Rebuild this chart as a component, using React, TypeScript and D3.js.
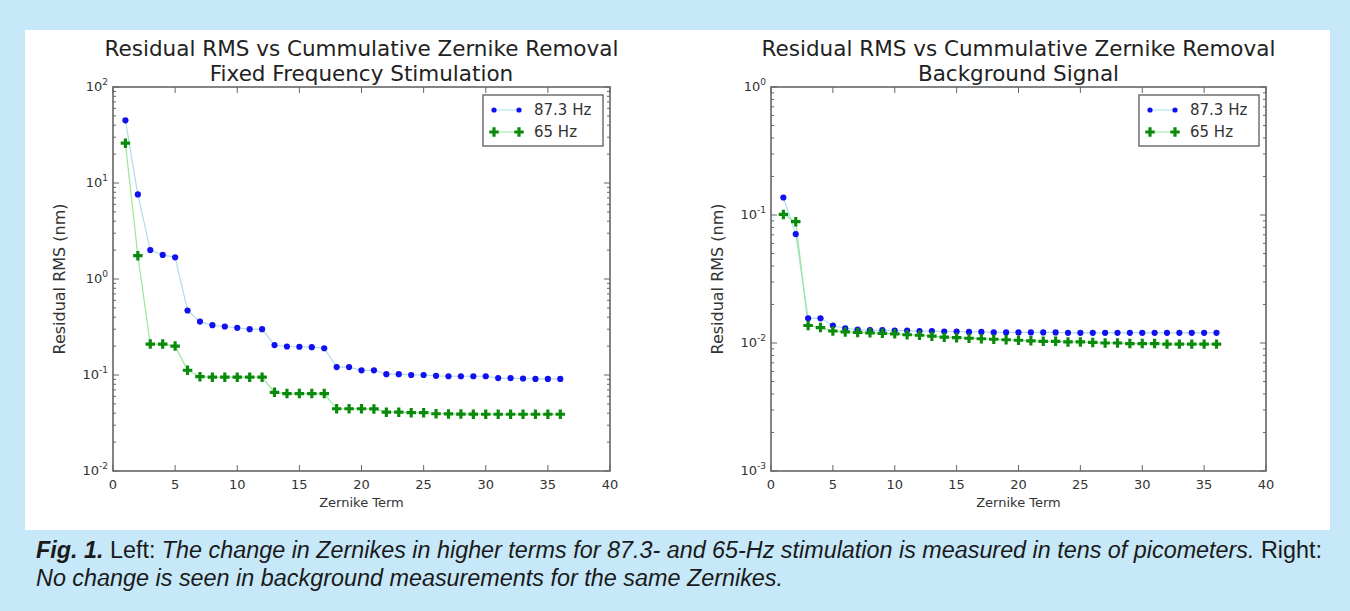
import React from 'react';
import * as d3 from 'd3';

const terms = d3.range(1, 37);

const leftBlue = [45, 7.6, 2.0, 1.78, 1.68, 0.47, 0.36, 0.33, 0.32, 0.31, 0.30, 0.30,
  0.205, 0.198, 0.197, 0.195, 0.19, 0.121, 0.121, 0.112, 0.112, 0.102, 0.102, 0.1,
  0.1, 0.098, 0.097, 0.097, 0.097, 0.097, 0.093, 0.093, 0.092, 0.091, 0.091, 0.091];
const leftGreen = [26, 1.75, 0.21, 0.21, 0.2, 0.112, 0.096, 0.095, 0.095, 0.095, 0.095, 0.095,
  0.066, 0.064, 0.064, 0.064, 0.064, 0.0445, 0.0445, 0.0445, 0.0443, 0.041, 0.041, 0.0405,
  0.0405, 0.0395, 0.0393, 0.0392, 0.0391, 0.039, 0.039, 0.039, 0.039, 0.039, 0.039, 0.039];

const rightBlue = [0.137, 0.071, 0.0156, 0.0156, 0.0137, 0.013, 0.0127, 0.0126, 0.0126, 0.0125,
  0.0125, 0.0124, 0.0124, 0.0123, 0.0123, 0.0122, 0.0122, 0.0121, 0.0121, 0.0121, 0.0121,
  0.0121, 0.0121, 0.012, 0.012, 0.012, 0.012, 0.012, 0.012, 0.012, 0.012, 0.012, 0.012,
  0.012, 0.012, 0.012];
const rightGreen = [0.101, 0.0887, 0.0137, 0.0132, 0.0124, 0.0122, 0.0121, 0.012, 0.0119, 0.0118,
  0.0116, 0.0115, 0.0113, 0.0111, 0.011, 0.0109, 0.0108, 0.0107, 0.0106, 0.0105, 0.0104,
  0.0103, 0.0103, 0.0102, 0.0102, 0.0101, 0.01, 0.01, 0.0099, 0.0099, 0.0099, 0.0098,
  0.0098, 0.0098, 0.0098, 0.0098];

const seriesNames = ['87.3 Hz', '65 Hz'];
const xTicks = [0, 5, 10, 15, 20, 25, 30, 35, 40];
const titleLine1 = 'Residual RMS vs Cummulative Zernike Removal';

const mpl = '"DejaVu Sans", sans-serif';
const axisCol = '#666';
const textCol = '#333';
const blueDot = '#1010f0';
const blueLine = '#b0dcea';
const greenDot = '#0a8a0a';
const greenLine = '#98e898';

const plusPath = d3.symbol(d3.symbolCross, 50)()!;

interface PanelProps {
  left: number;
  right: number;
  subtitle: string;
  yDomain: [number, number];
  blue: number[];
  green: number[];
}

const Panel: React.FC<PanelProps> = ({ left, right, subtitle, yDomain, blue, green }) => {
  const top = 87;
  const bottom = 471;
  const x = d3.scaleLinear().domain([0, 40]).range([left, right]);
  const y = d3.scaleLog().domain(yDomain).range([bottom, top]);

  const lo = Math.round(Math.log10(yDomain[0]));
  const hi = Math.round(Math.log10(yDomain[1]));
  const majors = d3.range(lo, hi + 1);
  const minors: number[] = [];
  for (let e = lo; e < hi; e++) for (let m = 2; m <= 9; m++) minors.push(m * Math.pow(10, e));

  const line = d3.line<number>().x((_, i) => x(terms[i])).y(d => y(d));
  const cx = (left + right) / 2;

  const legX = right - 127;
  const legY = 95;

  return (
    <g>
      <text x={cx} y={56} textAnchor="middle" fontFamily={mpl} fontSize={21.5} fill="#222">{titleLine1}</text>
      <text x={cx} y={81} textAnchor="middle" fontFamily={mpl} fontSize={21.5} fill="#222">{subtitle}</text>

      {minors.map(v => (
        <g key={'mi' + v} stroke={axisCol} strokeWidth={1}>
          <line x1={left} x2={left + 3} y1={y(v)} y2={y(v)} />
          <line x1={right} x2={right - 3} y1={y(v)} y2={y(v)} />
        </g>
      ))}
      {majors.map(e => (
        <g key={'ma' + e}>
          <line x1={left} x2={left + 6} y1={y(Math.pow(10, e))} y2={y(Math.pow(10, e))} stroke={axisCol} />
          <line x1={right} x2={right - 6} y1={y(Math.pow(10, e))} y2={y(Math.pow(10, e))} stroke={axisCol} />
          <text x={left - 5} y={y(Math.pow(10, e)) + 4} textAnchor="end" fontFamily={mpl} fontSize={13} fill={textCol}>
            10<tspan dy={-6} fontSize={9}>{e}</tspan>
          </text>
        </g>
      ))}
      {xTicks.map(t => (
        <g key={'x' + t}>
          <line x1={x(t)} x2={x(t)} y1={bottom} y2={bottom - 6} stroke={axisCol} />
          <line x1={x(t)} x2={x(t)} y1={top} y2={top + 6} stroke={axisCol} />
          <text x={x(t)} y={bottom + 18} textAnchor="middle" fontFamily={mpl} fontSize={13} fill={textCol}>{t}</text>
        </g>
      ))}
      <rect x={left} y={top} width={right - left} height={bottom - top} fill="none" stroke={axisCol} strokeWidth={1.6} />

      <text x={cx} y={507} textAnchor="middle" fontFamily={mpl} fontSize={13} fill={textCol}>Zernike Term</text>
      <text transform={`translate(${left - 48},${(top + bottom) / 2}) rotate(-90)`} textAnchor="middle"
        fontFamily={mpl} fontSize={16} fill={textCol}>Residual RMS (nm)</text>

      <path d={line(blue)!} fill="none" stroke={blueLine} strokeWidth={1.2} />
      <path d={line(green)!} fill="none" stroke={greenLine} strokeWidth={1.2} />
      {blue.map((v, i) => (
        <circle key={'b' + i} cx={x(terms[i])} cy={y(v)} r={3.1} fill={blueDot} />
      ))}
      {green.map((v, i) => (
        <path key={'g' + i} d={plusPath} transform={`translate(${x(terms[i])},${y(v)})`} fill={greenDot} />
      ))}

      <rect x={legX} y={legY} width={120} height={51} fill="#fff" stroke={axisCol} strokeWidth={1.4} />
      <line x1={legX + 11} x2={legX + 36} y1={legY + 15} y2={legY + 15} stroke={blueLine} />
      <circle cx={legX + 11} cy={legY + 15} r={2.6} fill={blueDot} />
      <circle cx={legX + 36} cy={legY + 15} r={2.6} fill={blueDot} />
      <text x={legX + 51} y={legY + 20} fontFamily={mpl} fontSize={15} fill={textCol}>{seriesNames[0]}</text>
      <line x1={legX + 11} x2={legX + 36} y1={legY + 37} y2={legY + 37} stroke={greenLine} />
      <path d={plusPath} transform={`translate(${legX + 11},${legY + 37})`} fill={greenDot} />
      <path d={plusPath} transform={`translate(${legX + 36},${legY + 37})`} fill={greenDot} />
      <text x={legX + 51} y={legY + 42} fontFamily={mpl} fontSize={15} fill={textCol}>{seriesNames[1]}</text>
    </g>
  );
};

const capFont = '"Liberation Sans Narrow", "Arial Narrow", "Liberation Sans", sans-serif';

export default function App() {
  return (
    <svg width={1350} height={611} style={{ position: 'absolute', left: 0, top: 0, background: '#c6e8f8' }}>
      <rect x={0} y={0} width={1350} height={611} fill="#c6e8f8" />
      <rect x={25} y={30} width={1305} height={500} fill="#fff" />
      <Panel left={113} right={610} subtitle="Fixed Frequency Stimulation" yDomain={[0.01, 100]} blue={leftBlue} green={leftGreen} />
      <Panel left={771} right={1266} subtitle="Background Signal" yDomain={[0.001, 1]} blue={rightBlue} green={rightGreen} />
      <text x={36} y={558} fontFamily={capFont} fontSize={23} fill="#1a1a1a" textLength={1286} lengthAdjust="spacingAndGlyphs">
        <tspan fontWeight="bold" fontStyle="italic">Fig. 1.</tspan>
        <tspan> Left: </tspan>
        <tspan fontStyle="italic">The change in Zernikes in higher terms for 87.3- and 65-Hz stimulation is measured in tens of picometers.</tspan>
        <tspan> Right:</tspan>
      </text>
      <text x={36} y={586} fontFamily={capFont} fontSize={23} fill="#1a1a1a" fontStyle="italic" textLength={747} lengthAdjust="spacingAndGlyphs">
        No change is seen in background measurements for the same Zernikes.
      </text>
    </svg>
  );
}
